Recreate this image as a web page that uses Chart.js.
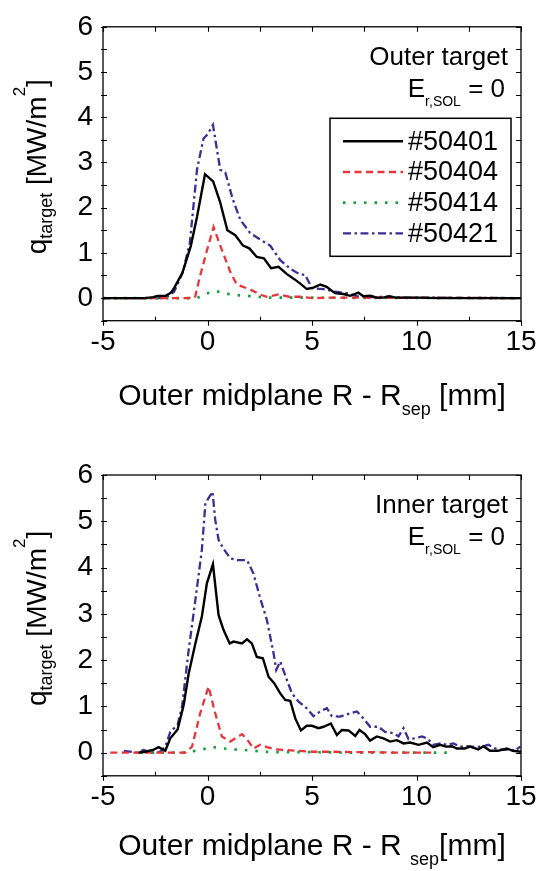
<!DOCTYPE html>
<html><head><meta charset="utf-8">
<script src="https://cdn.jsdelivr.net/npm/chart.js@4.4.1/dist/chart.umd.min.js"></script>
<style>
html,body{margin:0;padding:0;background:#fff;}
#wrap{position:relative;width:551px;height:871px;overflow:hidden;}
canvas{position:absolute;left:0;}
</style></head><body>
<div id="wrap">
<canvas id="topChart" width="551" height="430" style="top:0"></canvas>
<canvas id="botChart" width="551" height="441" style="top:430px"></canvas>
</div>
<script>
// ---------------- data ----------------
const xTickLabels = [-5, 0, 5, 10, 15];
const yTickLabels = [0, 1, 2, 3, 4, 5, 6];
const shotNames = ['#50401', '#50404', '#50414', '#50421'];

// Outer target, [R - Rsep (mm), q (MW/m^2)]
const outer50401 = [[-5,0],[-3,0],[-2.6,0.02],[-2.4,0.05],[-2.0,0.05],[-1.75,0.12],[-1.6,0.22],[-1.2,0.56],[-0.8,1.15],[-0.5,1.8],[-0.12,2.74],[0.27,2.58],[0.6,2.13],[0.95,1.5],[1.33,1.39],[1.7,1.16],[2.0,1.1],[2.36,0.91],[2.7,0.88],[3.04,0.66],[3.4,0.69],[3.8,0.53],[4.12,0.43],[4.44,0.32],[4.75,0.2],[5.07,0.23],[5.4,0.3],[5.7,0.25],[6.1,0.11],[6.5,0.09],[6.83,0.05],[7.22,0.12],[7.46,0.04],[7.8,0.05],[8.1,0.01],[8.4,0.01],[8.7,0.04],[9.0,0.01],[10,0.01],[11,0],[15,0]];
const outer50404 = [[-5,0],[-1,0],[-0.6,0.01],[-0.35,0.5],[0.0,1.1],[0.29,1.57],[0.61,1.16],[1.09,0.58],[1.4,0.3],[2.04,0.19],[2.5,0.08],[2.84,0.03],[3.4,0.08],[3.9,0.03],[4.5,0.03],[5.0,0.0],[6,0.01],[15,0]];
const outer50414 = [[-5,0],[-0.5,0],[-0.11,0.09],[0.37,0.16],[0.85,0.1],[1.33,0.07],[1.9,0.05],[2.4,0.03],[3,0.01],[15,0]];
const outer50421 = [[-5,0],[-2.2,0],[-2.0,0.01],[-1.6,0.14],[-1.2,0.55],[-0.85,1.2],[-0.5,2.85],[-0.19,3.53],[0.0,3.62],[0.26,3.83],[0.61,2.84],[0.85,2.78],[1.2,2.2],[1.57,1.73],[2.04,1.44],[2.5,1.3],[3.0,1.16],[3.48,0.84],[3.96,0.65],[4.43,0.52],[4.67,0.52],[4.99,0.22],[5.55,0.2],[6.1,0.14],[6.67,0.11],[7.15,0.04],[7.8,0.02],[8.6,0.03],[9.5,0.01],[10.5,0.01],[15,0]];

// Inner target
const inner50401 = [[-3.3,0],[-3.0,0.02],[-2.6,0.06],[-2.34,0.12],[-2.02,0.04],[-1.78,0.31],[-1.43,0.5],[-1.14,1.03],[-0.9,1.71],[-0.58,2.36],[-0.27,2.94],[-0.03,3.66],[0.26,4.07],[0.53,2.97],[0.77,2.65],[1.06,2.36],[1.25,2.4],[1.65,2.36],[1.89,2.45],[2.12,2.36],[2.36,2.07],[2.65,2.04],[2.92,1.64],[3.19,1.5],[3.48,1.28],[3.72,1.14],[3.96,1.12],[4.2,0.74],[4.47,0.48],[4.75,0.58],[5.0,0.58],[5.31,0.53],[5.55,0.56],[5.9,0.63],[6.19,0.38],[6.43,0.49],[6.75,0.48],[7.07,0.36],[7.27,0.49],[7.54,0.4],[7.78,0.26],[8.1,0.35],[8.42,0.31],[8.74,0.24],[9.06,0.27],[9.38,0.2],[9.7,0.22],[10.1,0.17],[10.5,0.22],[10.8,0.12],[11.13,0.17],[11.4,0.13],[11.69,0.14],[11.93,0.09],[12.3,0.09],[12.56,0.13],[12.96,0.07],[13.2,0.14],[13.52,0.04],[13.9,0.04],[14.32,0.09],[14.6,0.04],[15,0.02]];
const inner50404 = [[-4.65,0],[-1.06,0],[-0.74,0.13],[-0.35,0.85],[0.05,1.43],[0.37,0.85],[0.69,0.35],[1.09,0.24],[1.65,0.4],[1.89,0.29],[2.2,0.09],[2.52,0.17],[2.84,0.12],[3.24,0.07],[3.7,0.06],[4.28,0.04],[5,0.02],[6,0.02],[7,0.01],[8,0.01],[9,0],[10.7,0]];
const inner50414 = [[-3.2,0],[-1,0],[-0.27,0.07],[0.26,0.12],[0.77,0.09],[1.25,0.07],[1.73,0.06],[2.2,0.04],[2.7,0.02],[3.5,0.01],[5,0.01],[7,0],[11.6,0]];
const inner50421 = [[-4.0,0.04],[-3.37,0],[-3.06,0.06],[-2.7,0],[-2.26,0.02],[-2.02,0.13],[-1.78,0.45],[-1.43,0.6],[-1.22,0.99],[-0.9,2.22],[-0.58,3.3],[-0.27,4.38],[-0.1,5.39],[0.05,5.5],[0.24,5.64],[0.37,5.03],[0.53,4.6],[0.77,4.4],[1.09,4.2],[1.41,4.16],[1.89,4.16],[2.2,3.87],[2.52,3.34],[2.84,2.87],[3.16,2.15],[3.29,1.79],[3.48,1.97],[3.8,1.57],[4.04,1.28],[4.36,1.1],[4.75,0.96],[5.07,0.79],[5.39,0.89],[5.71,0.96],[5.95,0.79],[6.35,0.78],[6.75,0.84],[7.15,0.89],[7.46,0.74],[7.78,0.56],[8.18,0.56],[8.5,0.45],[8.9,0.42],[9.14,0.35],[9.38,0.53],[9.62,0.29],[9.94,0.31],[10.25,0.35],[10.5,0.31],[10.81,0.17],[11.13,0.2],[11.45,0.17],[11.77,0.2],[12.09,0.13],[12.48,0.14],[12.8,0.12],[13.1,0.13],[13.44,0.17],[13.76,0.09],[14.16,0.06],[14.48,0.07],[14.72,0.04],[14.96,0.13]];

// ---------------- styling ----------------
const FONT = "'Liberation Sans', Arial, Helvetica, sans-serif";
const lineColors = ['#000000', '#e8353b', '#13a03c', '#3d2d94'];
const lineWidths = [2.4, 2.3, 2.7, 2.3];
const lineDashes = [[], [7, 4.5], [2.5, 8], [8, 3.5, 2.5, 3.5]];

function drawRich(ctx, segs, x, y, align) {
  let total = 0;
  segs.forEach(s => { ctx.font = s.size + 'px ' + FONT; s.w = ctx.measureText(s.t).width; total += s.w; });
  let cx = align === 'right' ? x - total : (align === 'center' ? x - total / 2 : x);
  ctx.textAlign = 'left';
  ctx.textBaseline = 'alphabetic';
  segs.forEach(s => { ctx.font = s.size + 'px ' + FONT; ctx.fillText(s.t, cx, y + (s.dy || 0)); cx += s.w; });
}

const framePlugin = {
  id: 'frame',
  afterDatasetsDraw(chart) {
    const { ctx, chartArea: ca, scales: { x, y } } = chart;
    ctx.save();
    ctx.strokeStyle = '#000';
    ctx.lineWidth = 1.3;
    ctx.setLineDash([]);
    ctx.strokeRect(ca.left, ca.top, ca.right - ca.left, ca.bottom - ca.top);
    ctx.lineWidth = 1.1;
    ctx.beginPath();
    for (let i = 0; i <= 8; i++) {
      const v = x.min + i * 2.5;
      const px = Math.round(x.getPixelForValue(v)) + 0.5;
      const major = i % 2 === 0;
      if (major) { ctx.moveTo(px, ca.bottom); ctx.lineTo(px, ca.bottom + 5); }
      else { ctx.moveTo(px, ca.bottom); ctx.lineTo(px, ca.bottom - 4); }
      ctx.moveTo(px, ca.top); ctx.lineTo(px, ca.top + 5);
    }
    for (let i = 0; i <= 13; i++) {
      const v = y.min + i * 0.5;
      const py = Math.round(y.getPixelForValue(v)) + 0.5;
      ctx.moveTo(ca.left - 2, py); ctx.lineTo(ca.left + 4, py);
      ctx.moveTo(ca.right, py); ctx.lineTo(ca.right - 5, py);
    }
    ctx.stroke();
    ctx.restore();
  }
};

const textPlugin = {
  id: 'texts',
  afterDraw(chart, args, opts) {
    const { ctx, chartArea: ca } = chart;
    ctx.save();
    ctx.fillStyle = '#000';
    // x title
    const cxm = (ca.left + ca.right) / 2;
    drawRich(ctx, opts.xTitle, cxm, ca.bottom + opts.xTitleOffset, 'center');
    // y title (rotated)
    ctx.save();
    ctx.translate(46, (ca.top + ca.bottom) / 2 + opts.yTitleShift);
    ctx.rotate(-Math.PI / 2);
    drawRich(ctx, [
      { t: 'q', size: 28 }, { t: 'target', size: 18, dy: 6 },
      { t: ' [MW/m', size: 28 }, { t: '2', size: 17, dy: -21 }, { t: ']', size: 28 }
    ], 0, 0, 'center');
    ctx.restore();
    // annotations
    drawRich(ctx, [{ t: opts.label, size: 26 }], ca.right - 13, ca.top + 38, 'right');
    drawRich(ctx, [{ t: 'E', size: 26 }, { t: 'r,SOL', size: 14, dy: 9 }, { t: ' = 0', size: 26 }], ca.right - 16, ca.top + 70, 'right');
    // legend
    if (opts.legend) {
      const right = ca.right - 10, left = right - 181, top = ca.top + 91.5, bottom = top + 138;
      ctx.lineWidth = 1.5;
      ctx.strokeStyle = '#000';
      ctx.strokeRect(left, top, right - left, bottom - top);
      chart.data.datasets.forEach((ds, i) => {
        const yy = top + 23 + i * 30.7;
        ctx.save();
        ctx.strokeStyle = ds.borderColor;
        ctx.lineWidth = ds.borderWidth;
        ctx.setLineDash(ds.borderDash);
        ctx.beginPath();
        ctx.moveTo(left + 13, yy); ctx.lineTo(left + 73, yy);
        ctx.stroke();
        ctx.restore();
        ctx.font = '27px ' + FONT;
        ctx.textAlign = 'left';
        ctx.textBaseline = 'middle';
        ctx.fillText(ds.label, left + 78, yy + 1);
      });
    }
    ctx.restore();
  }
};

function makeChart(id, series, cfg) {
  return new Chart(document.getElementById(id), {
    type: 'line',
    data: {
      datasets: series.map((s, i) => ({
        label: shotNames[i],
        data: s.map(p => ({ x: p[0], y: p[1] })),
        borderColor: lineColors[i],
        borderWidth: lineWidths[i],
        borderDash: lineDashes[i],
        pointRadius: 0,
        tension: 0,
        fill: false
      }))
    },
    options: {
      responsive: false,
      animation: false,
      devicePixelRatio: 1,
      layout: { padding: { left: 0, right: 30, top: cfg.padTop, bottom: 0 } },
      plugins: { legend: { display: false }, tooltip: { enabled: false }, texts: cfg.texts },
      scales: {
        x: {
          type: 'linear', min: -5, max: 15,
          grid: { display: false, drawTicks: false },
          border: { display: false },
          afterBuildTicks: s => { s.ticks = xTickLabels.map(v => ({ value: v })); },
          afterFit: s => { s.height = cfg.xH; },
          ticks: { font: { family: FONT, size: 28 }, color: '#000', padding: 5, maxRotation: 0, autoSkip: false }
        },
        y: {
          type: 'linear', min: -0.5, max: 6,
          grid: { display: false, drawTicks: false },
          border: { display: false },
          afterBuildTicks: s => { s.ticks = yTickLabels.map(v => ({ value: v })); },
          afterFit: s => { s.width = 103; },
          ticks: { font: { family: FONT, size: 28 }, color: '#000', padding: 10, autoSkip: false }
        }
      }
    },
    plugins: [framePlugin, textPlugin]
  });
}

makeChart('topChart', [outer50401, outer50404, outer50414, outer50421], {
  padTop: 18.5, xH: 109.3,
  texts: {
    label: 'Outer target', legend: true, yTitleShift: -7, xTitleOffset: 84,
    xTitle: [{ t: 'Outer midplane R - R', size: 30 }, { t: 'sep', size: 18, dy: 10 }, { t: ' [mm]', size: 30 }]
  }
});
makeChart('botChart', [inner50401, inner50404, inner50414, inner50421], {
  padTop: 45, xH: 95.2,
  texts: {
    label: 'Inner target', legend: false, yTitleShift: -7, xTitleOffset: 79,
    xTitle: [{ t: 'Outer midplane R - R ', size: 30 }, { t: 'sep', size: 18, dy: 10 }, { t: '[mm]', size: 30 }]
  }
});
</script>
</body></html>
